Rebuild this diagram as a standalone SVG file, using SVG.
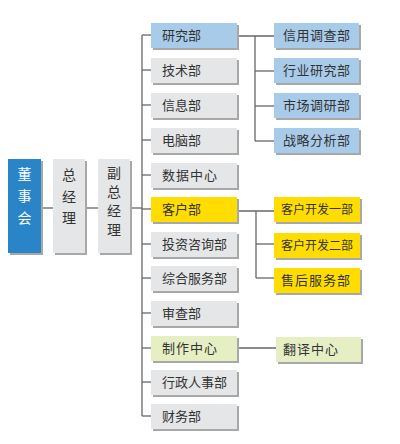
<svg xmlns="http://www.w3.org/2000/svg" width="400" height="444" viewBox="0 0 400 444">
<defs>
<style>
.sh{fill:#a8a8a8}
.g{fill:#e5e6e8}
.b{fill:#a9cbea}
.y{fill:#ffdd00}
.gr{fill:#e6efc3}
.d{fill:#2a85c8}
text{font-family:"Noto Sans CJK SC","Noto Sans CJK JP",sans-serif;font-size:13px;fill:#333}
.w{fill:#fff;font-size:14px}
.v{font-size:14px;text-anchor:middle}
.c line,.c polyline{stroke:#666;stroke-width:1.3;fill:none}
</style>
</defs>
<rect width="400" height="444" fill="#fff"/>
<g class="c">
<line x1="41" y1="208" x2="53" y2="208"/>
<line x1="85" y1="208" x2="98" y2="208"/>
<line x1="130" y1="208" x2="142" y2="208"/>
<line x1="142" y1="35" x2="142" y2="416"/>
<line x1="142" y1="35" x2="151" y2="35"/>
<line x1="142" y1="70" x2="151" y2="70"/>
<line x1="142" y1="105" x2="151" y2="105"/>
<line x1="142" y1="140" x2="151" y2="140"/>
<line x1="142" y1="175" x2="151" y2="175"/>
<line x1="142" y1="209" x2="151" y2="209"/>
<line x1="142" y1="244" x2="151" y2="244"/>
<line x1="142" y1="278" x2="151" y2="278"/>
<line x1="142" y1="313" x2="151" y2="313"/>
<line x1="142" y1="348" x2="151" y2="348"/>
<line x1="142" y1="382" x2="151" y2="382"/>
<line x1="142" y1="416" x2="151" y2="416"/>
<line x1="237" y1="36" x2="274" y2="36"/>
<line x1="255" y1="36" x2="255" y2="141"/>
<line x1="255" y1="71" x2="274" y2="71"/>
<line x1="255" y1="106" x2="274" y2="106"/>
<line x1="255" y1="141" x2="274" y2="141"/>
<line x1="237" y1="211" x2="274" y2="211"/>
<line x1="256" y1="211" x2="256" y2="278"/>
<line x1="256" y1="244" x2="274" y2="244"/>
<line x1="256" y1="278" x2="274" y2="278"/>
<line x1="237" y1="348" x2="276" y2="348"/>
</g>
<g id="dongshihui"><rect class="sh" x="10" y="161" width="33" height="94"/><rect class="d" x="8" y="159" width="33" height="94"/><text class="w v" x="24.5" y="179" style="fill:#fff">董</text><text class="w v" x="24.5" y="201" style="fill:#fff">事</text><text class="w v" x="24.5" y="223" style="fill:#fff">会</text></g>
<g id="zongjingli"><rect class="sh" x="55" y="161" width="32" height="94"/><rect class="g" x="53" y="159" width="32" height="94"/><text class="v" x="69" y="180">总</text><text class="v" x="69" y="202">经</text><text class="v" x="69" y="223">理</text></g>
<g id="fuzongjingli"><rect class="sh" x="100" y="161" width="32" height="94"/><rect class="g" x="98" y="159" width="32" height="94"/><text class="v" x="114" y="178">副</text><text class="v" x="114" y="197">总</text><text class="v" x="114" y="216">经</text><text class="v" x="114" y="235">理</text></g>
<g id="yanjiubu"><rect class="sh" x="153" y="25" width="86" height="25"/><rect class="b" x="151" y="23" width="86" height="25"/><text x="162" y="40">研究部</text></g>
<g id="jishubu"><rect class="sh" x="153" y="60" width="86" height="25"/><rect class="g" x="151" y="58" width="86" height="25"/><text x="162" y="75">技术部</text></g>
<g id="xinxibu"><rect class="sh" x="153" y="95" width="86" height="25"/><rect class="g" x="151" y="93" width="86" height="25"/><text x="162" y="110">信息部</text></g>
<g id="diannaobu"><rect class="sh" x="153" y="130" width="86" height="25"/><rect class="g" x="151" y="128" width="86" height="25"/><text x="162" y="145">电脑部</text></g>
<g id="shujuzhongxin"><rect class="sh" x="153" y="165" width="86" height="25"/><rect class="g" x="151" y="163" width="86" height="25"/><text x="162" y="180" letter-spacing="1">数据中心</text></g>
<g id="kehubu"><rect class="sh" x="153" y="199" width="86" height="25"/><rect class="y" x="151" y="197" width="86" height="25"/><text x="162" y="214">客户部</text></g>
<g id="touzizixunbu"><rect class="sh" x="153" y="234" width="86" height="25"/><rect class="g" x="151" y="232" width="86" height="25"/><text x="162" y="249">投资咨询部</text></g>
<g id="zonghefuwubu"><rect class="sh" x="153" y="268" width="86" height="25"/><rect class="g" x="151" y="266" width="86" height="25"/><text x="162" y="283">综合服务部</text></g>
<g id="shenchabu"><rect class="sh" x="153" y="303" width="86" height="25"/><rect class="g" x="151" y="301" width="86" height="25"/><text x="162" y="318">审查部</text></g>
<g id="zhizuozhongxin"><rect class="sh" x="153" y="338" width="86" height="25"/><rect class="gr" x="151" y="336" width="86" height="25"/><text x="162" y="353" letter-spacing="1">制作中心</text></g>
<g id="xingzhengrenshibu"><rect class="sh" x="153" y="372" width="86" height="25"/><rect class="g" x="151" y="370" width="86" height="25"/><text x="162" y="387">行政人事部</text></g>
<g id="caiwubu"><rect class="sh" x="153" y="406" width="86" height="25"/><rect class="g" x="151" y="404" width="86" height="25"/><text x="162" y="421">财务部</text></g>
<g id="xinyongdiaochabu"><rect class="sh" x="276" y="25" width="85" height="25"/><rect class="b" x="274" y="23" width="85" height="25"/><text x="283" y="40" letter-spacing="0.5">信用调查部</text></g>
<g id="hangyeyanjiubu"><rect class="sh" x="276" y="60" width="85" height="25"/><rect class="b" x="274" y="58" width="85" height="25"/><text x="283" y="75" letter-spacing="0.5">行业研究部</text></g>
<g id="shichangdiaoyanbu"><rect class="sh" x="276" y="95" width="85" height="25"/><rect class="b" x="274" y="93" width="85" height="25"/><text x="283" y="110" letter-spacing="0.5">市场调研部</text></g>
<g id="zhanlvefenxibu"><rect class="sh" x="276" y="130" width="85" height="25"/><rect class="b" x="274" y="128" width="85" height="25"/><text x="283" y="145" letter-spacing="0.5">战略分析部</text></g>
<g id="kehukaifa1"><rect class="sh" x="276" y="199" width="86" height="25"/><rect class="y" x="274" y="197" width="86" height="25"/><text x="281" y="214" style="font-size:12px">客户开发一部</text></g>
<g id="kehukaifa2"><rect class="sh" x="276" y="235" width="86" height="25"/><rect class="y" x="274" y="233" width="86" height="25"/><text x="281" y="250" style="font-size:12px">客户开发二部</text></g>
<g id="shouhoufuwubu"><rect class="sh" x="276" y="270" width="86" height="25"/><rect class="y" x="274" y="268" width="86" height="25"/><text x="281" y="285" letter-spacing="1">售后服务部</text></g>
<g id="fanyizhongxin"><rect class="sh" x="278" y="339" width="85" height="25"/><rect class="gr" x="276" y="337" width="85" height="25"/><text x="283" y="354" letter-spacing="1">翻译中心</text></g>
</svg>
